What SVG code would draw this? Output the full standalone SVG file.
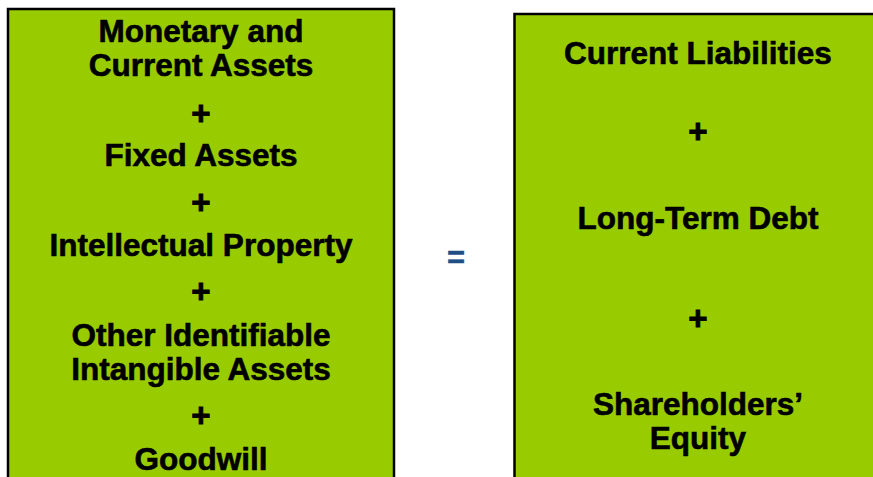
<svg xmlns="http://www.w3.org/2000/svg" width="873" height="477" viewBox="0 0 873 477">
  <style>
    .box { fill: #99CC00; stroke: #000000; stroke-width: 2.5; }
    .lbl { font-family: "Liberation Sans", Arial, sans-serif; font-weight: bold; font-size: 31.5px; fill: #000000; stroke: #000000; stroke-width: 0.6; text-anchor: middle; }
    .plus { font-size: 33px; stroke-width: 0.9; }
    .eq { font-family: "Liberation Sans", Arial, sans-serif; font-weight: bold; font-size: 31px; fill: #1F4E85; stroke: #1F4E85; stroke-width: 0.4; text-anchor: middle; }
  </style>
  <rect width="873" height="477" fill="#FFFFFF"/>

  <!-- Assets side -->
  <g id="assets">
    <rect class="box" x="8" y="9" width="386" height="480"/>
    <text class="lbl" x="201" y="42">Monetary and</text>
    <text class="lbl" x="201" y="76">Current Assets</text>
    <text class="lbl plus" x="201" y="125">+</text>
    <text class="lbl" x="201" y="166">Fixed Assets</text>
    <text class="lbl plus" x="201" y="214">+</text>
    <text class="lbl" x="201" y="256">Intellectual Property</text>
    <text class="lbl plus" x="201" y="303">+</text>
    <text class="lbl" x="201" y="346">Other Identifiable</text>
    <text class="lbl" x="201" y="380">Intangible Assets</text>
    <text class="lbl plus" x="201" y="427">+</text>
    <text class="lbl" x="201" y="470">Goodwill</text>
  </g>

  <!-- Equals sign -->
  <g id="equals">
    <text class="eq" x="456" y="268">=</text>
  </g>

  <!-- Liabilities and equity side -->
  <g id="liabilities">
    <rect class="box" x="514.5" y="14" width="380" height="480"/>
    <text class="lbl" x="698" y="64">Current Liabilities</text>
    <text class="lbl plus" x="698" y="143">+</text>
    <text class="lbl" x="698" y="229">Long-Term Debt</text>
    <text class="lbl plus" x="698" y="330">+</text>
    <text class="lbl" x="698" y="415">Shareholders’</text>
    <text class="lbl" x="698" y="449">Equity</text>
  </g>
</svg>
